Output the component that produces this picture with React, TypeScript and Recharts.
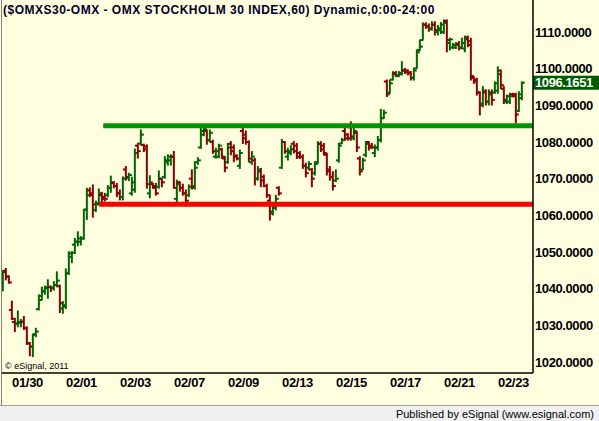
import { ComposedChart, Bar, XAxis, YAxis, ReferenceLine } from "recharts";

// hourly OHLC bars
const opens = [
  1039.6, 1044.9, 1043.3, 1034.2, 1030.9, 1030.5, 1030.7, 1031.0, 1029.2, 1025.1,
  1024.2, 1027.6, 1034.4, 1038.0, 1039.4, 1040.1, 1040.5, 1040.3, 1041.0, 1040.7,
  1034.6, 1035.1, 1044.2, 1048.7, 1052.0, 1052.8, 1052.8, 1053.7, 1061.6, 1066.8,
  1066.0, 1061.5, 1063.3, 1065.5, 1065.0, 1065.5, 1067.5, 1068.8, 1068.0, 1066.0,
  1065.0, 1072.5, 1070.2, 1066.0, 1067.0, 1079.0, 1079.6, 1079.2, 1078.8, 1066.0,
  1068.5, 1068.0, 1067.8, 1070.0, 1070.5, 1074.5, 1075.0, 1076.0, 1064.5, 1069.0,
  1067.5, 1066.0, 1065.5, 1070.0, 1068.0, 1074.5, 1078.5, 1082.0, 1083.0, 1080.5,
  1080.0, 1076.0, 1076.0, 1078.0, 1075.5, 1074.5, 1079.5, 1078.5, 1076.3, 1073.5,
  1083.0, 1082.0, 1080.0, 1074.5, 1075.0, 1070.0, 1072.0, 1070.5, 1068.0, 1064.0,
  1060.5, 1062.0, 1067.5, 1073.0, 1080.0, 1076.0, 1077.0, 1079.5, 1079.0, 1077.0,
  1076.0, 1073.5, 1073.0, 1072.5, 1071.5, 1074.5, 1079.5, 1079.0, 1076.5, 1072.5,
  1070.5, 1069.5, 1075.0, 1079.6, 1083.0, 1082.0, 1084.0, 1081.0, 1082.5, 1075.5,
  1072.5, 1076.5, 1080.0, 1079.0, 1077.0, 1078.5, 1080.5, 1086.5, 1096.5, 1093.5,
  1097.0, 1098.8, 1098.0, 1098.5, 1099.5, 1099.5, 1099.0, 1097.5, 1100.1, 1105.1,
  1107.8, 1112.0, 1111.5, 1110.8, 1112.0, 1110.0, 1110.5, 1110.0, 1113.0, 1107.0,
  1105.8, 1105.8, 1106.8, 1105.8, 1105.5, 1108.5, 1107.5, 1097.5, 1097.0, 1093.5,
  1090.5, 1093.5, 1091.0, 1093.5, 1093.5, 1094.0, 1099.5, 1094.5, 1091.0, 1091.0,
  1093.0, 1093.0, 1088.5, 1092.0,
];
const highs = [
  1044.9, 1045.5, 1043.5, 1036.6, 1031.9, 1033.9, 1031.6, 1032.4, 1029.6, 1025.3,
  1027.6, 1029.2, 1038.3, 1040.4, 1040.7, 1042.4, 1040.7, 1041.9, 1044.6, 1041.0,
  1036.5, 1045.4, 1050.1, 1050.1, 1053.7, 1055.5, 1054.2, 1061.6, 1067.4, 1067.5,
  1068.3, 1063.9, 1067.2, 1066.3, 1066.0, 1068.1, 1070.7, 1069.2, 1068.7, 1066.9,
  1070.5, 1073.3, 1071.5, 1070.4, 1078.1, 1079.6, 1083.3, 1079.4, 1079.2, 1070.8,
  1068.7, 1068.7, 1072.1, 1070.1, 1076.0, 1076.5, 1076.5, 1077.4, 1069.6, 1069.2,
  1068.5, 1066.9, 1068.3, 1072.4, 1074.6, 1075.7, 1084.2, 1084.2, 1083.3, 1083.3,
  1080.5, 1078.3, 1079.4, 1078.3, 1076.0, 1079.6, 1080.1, 1079.2, 1076.5, 1077.8,
  1083.7, 1083.0, 1080.3, 1077.4, 1075.5, 1073.3, 1072.8, 1071.0, 1068.5, 1065.5,
  1062.8, 1065.5, 1067.8, 1080.7, 1080.1, 1078.3, 1079.0, 1080.1, 1079.6, 1077.4,
  1076.5, 1074.2, 1074.6, 1072.8, 1074.6, 1080.1, 1080.1, 1079.6, 1076.9, 1073.3,
  1071.9, 1072.4, 1079.6, 1081.0, 1083.7, 1082.3, 1085.5, 1084.3, 1082.8, 1076.0,
  1075.6, 1080.1, 1080.1, 1079.6, 1079.2, 1081.5, 1088.9, 1088.7, 1096.9, 1096.9,
  1099.2, 1099.2, 1099.2, 1101.9, 1100.1, 1099.7, 1099.2, 1100.1, 1105.1, 1107.8,
  1112.5, 1112.5, 1112.2, 1112.8, 1112.8, 1111.8, 1112.6, 1113.3, 1113.3, 1108.3,
  1106.9, 1107.1, 1107.4, 1108.3, 1108.9, 1108.9, 1108.3, 1097.8, 1097.4, 1093.7,
  1095.1, 1094.2, 1094.2, 1094.2, 1096.4, 1100.5, 1099.6, 1095.1, 1092.8, 1093.3,
  1093.3, 1093.3, 1093.7, 1096.4,
];
const lows = [
  1039.4, 1042.4, 1041.5, 1031.6, 1028.3, 1029.6, 1029.6, 1028.9, 1024.8, 1021.7,
  1021.5, 1026.9, 1034.2, 1036.9, 1038.5, 1037.4, 1039.2, 1039.6, 1040.5, 1033.5,
  1033.3, 1034.6, 1043.9, 1047.1, 1049.6, 1051.7, 1051.9, 1053.5, 1058.9, 1065.1,
  1059.5, 1061.0, 1062.8, 1063.7, 1063.9, 1065.1, 1066.3, 1067.5, 1065.1, 1064.2,
  1064.2, 1069.6, 1069.5, 1065.5, 1066.3, 1075.6, 1079.2, 1077.4, 1067.4, 1064.8,
  1067.4, 1065.5, 1067.4, 1067.8, 1070.1, 1073.7, 1073.7, 1067.4, 1063.5, 1066.6,
  1065.5, 1062.6, 1065.1, 1067.2, 1067.2, 1073.9, 1078.3, 1081.7, 1079.4, 1080.1,
  1076.9, 1075.6, 1075.7, 1075.6, 1071.9, 1074.2, 1076.5, 1074.6, 1075.1, 1072.8,
  1079.6, 1079.4, 1074.6, 1073.9, 1068.3, 1069.6, 1067.8, 1067.8, 1064.9, 1058.7,
  1060.1, 1061.5, 1065.5, 1072.8, 1076.9, 1075.1, 1076.5, 1077.0, 1075.5, 1075.5,
  1072.8, 1070.5, 1072.4, 1067.8, 1071.0, 1074.2, 1077.4, 1076.5, 1071.0, 1069.6,
  1066.9, 1069.2, 1074.5, 1079.6, 1080.5, 1080.5, 1080.5, 1080.6, 1077.4, 1071.0,
  1072.4, 1076.0, 1077.8, 1078.3, 1076.0, 1077.8, 1080.0, 1086.4, 1092.4, 1093.3,
  1096.9, 1097.8, 1097.8, 1098.3, 1098.7, 1098.3, 1096.9, 1096.9, 1100.1, 1105.0,
  1107.8, 1111.0, 1110.2, 1110.5, 1109.2, 1109.2, 1109.6, 1109.6, 1104.6, 1105.1,
  1105.5, 1105.5, 1105.1, 1105.5, 1104.6, 1106.0, 1096.9, 1096.0, 1092.8, 1087.4,
  1089.6, 1090.1, 1090.1, 1090.1, 1093.3, 1093.3, 1094.6, 1090.5, 1090.5, 1090.5,
  1092.3, 1085.3, 1088.3, 1091.5,
];
const closes = [
  1044.5, 1043.3, 1041.7, 1031.8, 1030.5, 1030.9, 1031.0, 1029.2, 1025.1, 1024.2,
  1027.4, 1028.3, 1036.9, 1039.2, 1040.4, 1040.4, 1040.1, 1041.0, 1042.2, 1036.0,
  1035.5, 1044.2, 1049.6, 1049.8, 1052.8, 1053.7, 1053.7, 1061.5, 1065.5, 1065.5,
  1063.0, 1063.0, 1066.0, 1064.5, 1064.5, 1067.5, 1069.0, 1068.0, 1066.0, 1065.0,
  1070.0, 1070.5, 1071.0, 1069.0, 1077.0, 1077.5, 1082.0, 1078.0, 1068.5, 1069.0,
  1067.5, 1066.0, 1070.0, 1069.0, 1075.0, 1076.0, 1076.0, 1067.5, 1068.5, 1067.5,
  1066.0, 1064.0, 1067.8, 1067.5, 1073.0, 1075.0, 1083.0, 1083.5, 1080.5, 1082.5,
  1077.5, 1077.5, 1079.0, 1076.0, 1073.0, 1078.5, 1077.5, 1076.0, 1075.5, 1077.0,
  1081.0, 1080.0, 1075.5, 1076.0, 1070.0, 1072.5, 1069.5, 1068.0, 1065.5, 1061.0,
  1062.0, 1064.5, 1066.0, 1080.0, 1077.5, 1077.5, 1078.0, 1077.5, 1076.0, 1076.0,
  1073.5, 1071.5, 1074.0, 1070.0, 1074.0, 1079.5, 1078.0, 1077.0, 1072.0, 1070.5,
  1068.0, 1070.0, 1079.0, 1080.5, 1081.0, 1081.0, 1081.5, 1083.0, 1078.5, 1072.0,
  1075.0, 1079.5, 1078.5, 1078.5, 1078.5, 1080.5, 1086.5, 1088.0, 1093.0, 1096.0,
  1098.5, 1098.2, 1098.8, 1099.5, 1099.0, 1098.7, 1097.5, 1099.5, 1104.5, 1106.0,
  1112.0, 1111.5, 1111.0, 1112.0, 1110.5, 1111.0, 1112.0, 1112.5, 1107.8, 1108.0,
  1106.5, 1106.5, 1105.6, 1107.0, 1108.0, 1106.5, 1098.0, 1096.5, 1093.5, 1090.0,
  1094.0, 1091.0, 1093.0, 1091.5, 1096.0, 1098.5, 1095.5, 1091.5, 1092.5, 1092.5,
  1092.5, 1087.5, 1093.0, 1096.1651,
];

// first bar of each labelled session
const dateTickBars = [3, 21, 39, 57, 75, 93, 111, 129, 147, 165];
const dateLabels = ["01/30", "02/01", "02/03", "02/07", "02/09", "02/13", "02/15", "02/17", "02/21", "02/23"];
const priceTicks = [1020, 1030, 1040, 1050, 1060, 1070, 1080, 1090, 1100, 1110];

const resistance = 1084.4;
const support = 1063.0;
const resistanceFrom = 33.4;
const supportFrom = 32.1;

const data = opens.map((o, i) => ({
  i,
  o,
  h: highs[i],
  l: lows[i],
  c: closes[i],
  range: [lows[i], highs[i]],
}));
const lastClose = closes[closes.length - 1];

const X_MIN = -1 / 3;
const X_MAX = 176.67;

const OhlcBar = (props: any) => {
  const { x, y, width, height, payload } = props;
  const top = Math.min(y, y + height);
  const hgt = Math.abs(height);
  const cx = x + width / 2;
  const span = payload.h - payload.l || 1;
  const yOf = (v: number) => top + ((payload.h - v) / span) * hgt;
  const color = payload.c >= payload.o ? "#006400" : "#8b0000";
  return (
    <g stroke={color} strokeWidth={2}>
      <line x1={cx} x2={cx} y1={top - 0.5} y2={top + hgt + 0.5} />
      <line x1={cx - 3} x2={cx} y1={yOf(payload.o)} y2={yOf(payload.o)} />
      <line x1={cx} x2={cx + 3} y1={yOf(payload.c)} y2={yOf(payload.c)} />
    </g>
  );
};

const DateTick = (props: any) => {
  const { x, y, payload } = props;
  const label = dateLabels[dateTickBars.indexOf(payload.value)];
  return (
    <text
      x={x}
      y={y + 13.5}
      textAnchor="start"
      fontFamily="'Liberation Sans', Arial, sans-serif"
      fontWeight="bold"
      fontSize={13}
      letterSpacing={-0.3}
      fill="#000"
    >
      {label}
    </text>
  );
};

const PriceTick = (props: any) => {
  const { x, y, payload } = props;
  return (
    <text
      x={x}
      y={y + 4.5}
      textAnchor="start"
      fontFamily="'Liberation Sans', Arial, sans-serif"
      fontWeight="bold"
      fontSize={13}
      letterSpacing={-0.4}
      fill="#000"
    >
      {payload.value.toFixed(4)}
    </text>
  );
};

const LastPriceLabel = (props: any) => {
  const vb = props.viewBox;
  const left = vb.x + vb.width;
  return (
    <g>
      <rect x={left} y={vb.y - 7} width={66} height={14} fill="#005a00" />
      <text
        x={left + 2}
        y={vb.y + 4.5}
        fontFamily="'Liberation Sans', Arial, sans-serif"
        fontWeight="bold"
        fontSize={13}
        letterSpacing={-0.4}
        fill="#fff"
      >
        {lastClose.toFixed(4)}
      </text>
    </g>
  );
};

export default function App() {
  return (
    <div
      style={{
        position: "absolute",
        left: 0,
        top: 0,
        width: 599,
        height: 421,
        background: "#ffffe0",
        overflow: "hidden",
        fontFamily: "'Liberation Sans', Arial, sans-serif",
      }}
    >
      <ComposedChart
        width={599}
        height={421}
        data={data}
        margin={{ top: 0, right: 0, bottom: 18, left: 2 }}
      >
        <XAxis
          type="number"
          dataKey="i"
          domain={[X_MIN, X_MAX]}
          allowDataOverflow
          ticks={dateTickBars}
          interval={0}
          height={30}
          tickSize={0}
          tickMargin={0}
          axisLine={{ stroke: "#000", strokeWidth: 1.5 }}
          tick={<DateTick />}
        />
        <YAxis
          orientation="right"
          type="number"
          domain={[1017.0, 1118.73]}
          allowDataOverflow
          ticks={priceTicks}
          interval={0}
          width={66}
          tickSize={0}
          tickMargin={2}
          tickLine={false}
          axisLine={{ stroke: "#000", strokeWidth: 1.5 }}
          tick={<PriceTick />}
        />
        <Bar dataKey="range" barSize={3} isAnimationActive={false} shape={<OhlcBar />} />
        <ReferenceLine
          segment={[
            { x: resistanceFrom, y: resistance },
            { x: X_MAX, y: resistance },
          ]}
          stroke="#009600"
          strokeWidth={5}
        />
        <ReferenceLine
          segment={[
            { x: supportFrom, y: support },
            { x: X_MAX, y: support },
          ]}
          stroke="#ff0000"
          strokeWidth={5}
        />
        <ReferenceLine y={lastClose} strokeOpacity={0} label={<LastPriceLabel />} />
      </ComposedChart>

      <div
        style={{
          position: "absolute",
          left: 3,
          top: 3,
          fontSize: 12,
          fontWeight: "bold",
          letterSpacing: 0.5,
          color: "#00002a",
          whiteSpace: "nowrap",
        }}
      >
        ($OMXS30-OMX - OMX STOCKHOLM 30 INDEX,60) Dynamic,0:00-24:00
      </div>
      <div
        style={{
          position: "absolute",
          left: 5,
          top: 361,
          fontSize: 9,
          color: "#000",
          whiteSpace: "nowrap",
        }}
      >
        © eSignal, 2011
      </div>
      <div style={{ position: "absolute", left: 1, top: 0, width: 1, height: 405, background: "#808080" }} />
      <div
        style={{
          position: "absolute",
          left: 0,
          top: 405,
          width: 599,
          height: 16,
          background: "#f0f0f0",
          borderTop: "1px solid #a0a0a0",
        }}
      >
        <div
          style={{
            position: "absolute",
            right: 5,
            top: 2,
            fontSize: 11,
            color: "#000",
            whiteSpace: "nowrap",
          }}
        >
          Published by eSignal (www.esignal.com)
        </div>
      </div>
    </div>
  );
}
